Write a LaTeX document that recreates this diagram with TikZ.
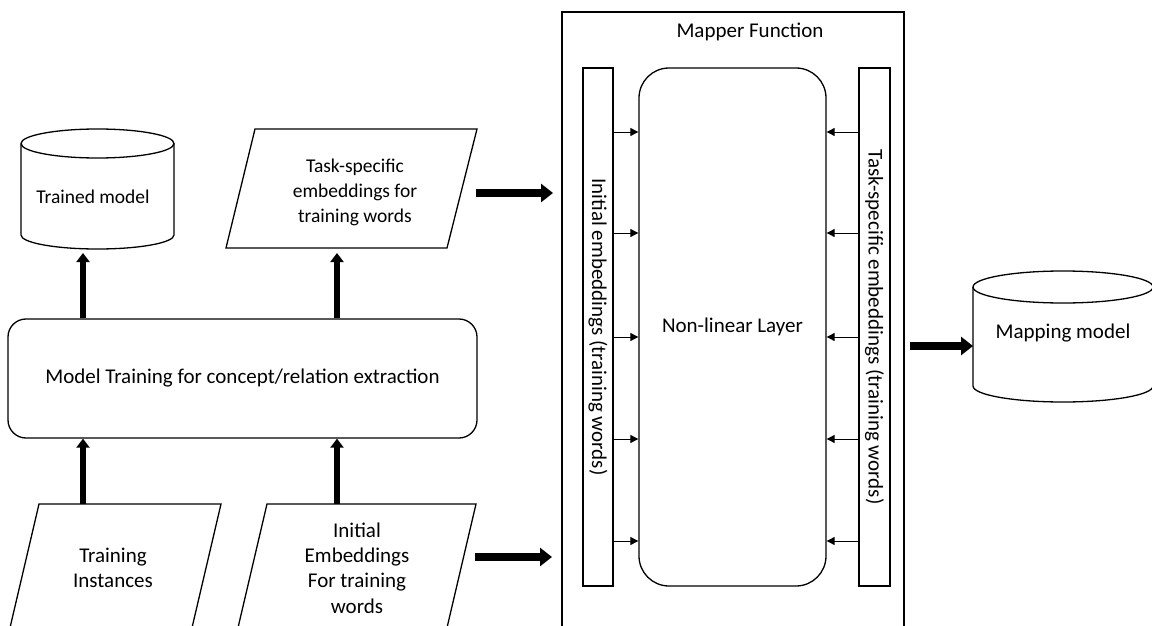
\documentclass[tikz,border=0pt]{standalone}
\usepackage{fontspec}
\setmainfont{Carlito}
\usepackage{graphicx}
\usetikzlibrary{arrows.meta,calc}
\begin{document}
\begin{tikzpicture}[x=1pt,y=-1pt,
  every node/.style={font=\fontsize{21}{25.3}\selectfont, inner sep=0pt},
  smallertext/.style={font=\fontsize{19.5}{25}\selectfont},
  outline/.style={draw=black, line width=1.3pt},
  bigH/.style={line width=8pt, -{Triangle[length=12pt,width=18pt]}},
  bigV/.style={line width=6pt, -{Triangle[length=9pt,width=13pt]}},
  small/.style={line width=0.9pt, -{Triangle[length=8pt,width=8pt]}}]
\useasboundingbox (0,0) rectangle (1152,626);
\clip (0,0) rectangle (1152,626);

% Trained model cylinder
\draw[outline] (21,143.5) -- (21,235) arc[start angle=180,end angle=360,x radius=76.5pt,y radius=14pt] -- (174,143.5);
\draw[outline] (97.5,143.5) ellipse [x radius=76.5pt, y radius=14.5pt];
\node[smallertext] (trained) at (93,197) {Trained model};
\coordinate (trainedin) at (83,253);

% Task-specific embeddings parallelogram
\draw[outline] (255,129) -- (477,129) -- (447,248) -- (226,248) -- cycle;
\node[smallertext, align=center] (tse) at (355,192) {Task-specific\\embeddings for\\training words};
\coordinate (tsein) at (337,253);
\coordinate (tseout) at (476,193);

% Model training block
\node[outline, rounded corners=18pt, minimum width=469pt, minimum height=119pt] (train) at (242.5,378.5) {Model Training for concept/relation extraction};

% Bottom inputs
\draw[outline] (39,504) -- (221,504) -- (191,632) -- (9,632) -- cycle;
\node[align=center] (ti) at (113,568) {Training\\Instances};
\coordinate (tiout) at (83,504);
\draw[outline] (267,504) -- (476,504) -- (446,632) -- (237,632) -- cycle;
\node[align=center] (ie) at (357,568) {Initial\\Embeddings\\For training\\words};
\coordinate (ieout) at (337,504);
\coordinate (ieright) at (475,557);

% Mapper function
\draw[outline] (562,640) -- (562,12) -- (904,12) -- (904,640);
\node (mapper) at (750,32) {Mapper Function};
\coordinate (mapin1) at (553,193);
\coordinate (mapin2) at (552,557);
\coordinate (mapout) at (910,346);
\node[outline, minimum width=30pt, minimum height=518pt] (initemb) at (598,327) {\rotatebox{-90}{Initial embeddings (training words)}};
\node[outline, rounded corners=30pt, minimum width=187pt, minimum height=518pt] (layer) at (732.5,327) {Non-linear Layer};
\node[outline, minimum width=31pt, minimum height=518pt] (tsemb) at (874.5,327) {\rotatebox{-90}{Task-specific embeddings (training words)}};
\foreach \y in {132,233,337,439,541} {
  \draw[small] (initemb.east |- 0,\y) -- (layer.west |- 0,\y);
  \draw[small] (tsemb.west |- 0,\y) -- (layer.east |- 0,\y);
}

% Mapping model cylinder
\draw[outline] (973,287) -- (973,386) arc[start angle=180,end angle=360,x radius=90pt,y radius=16pt] -- (1153,287);
\draw[outline] (1063,287) ellipse [x radius=90pt, y radius=16pt];
\node (mapping) at (1063,333) {Mapping model};
\coordinate (mappingin) at (973,346);

% Thick arrows
\draw[bigV] (train.north -| trainedin) -- (trainedin);
\draw[bigV] (train.north -| tsein) -- (tsein);
\draw[bigV] (tiout) -- (train.south -| tiout);
\draw[bigV] (ieout) -- (train.south -| ieout);
\draw[bigH] (tseout) -- (mapin1);
\draw[bigH] (ieright) -- (mapin2);
\draw[bigH] (mapout) -- (mappingin);
\end{tikzpicture}
\end{document}
